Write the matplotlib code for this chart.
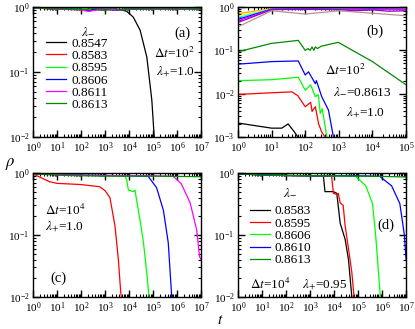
import matplotlib
matplotlib.use("Agg")
import matplotlib.pyplot as plt
from matplotlib.ticker import LogLocator, NullFormatter

plt.rcParams['font.family'] = ['Liberation Serif', 'DejaVu Serif']
plt.rcParams['mathtext.fontset'] = 'stix'

# grace colours
BLACK, RED, GREEN, BLUE = '#000000', '#ff0000', '#00ff00', '#0000ff'
MAGENTA, GREEN4 = '#ff00ff', '#008b00'

# ---- panel (a): dt=1e2, lambda+=1.0
a_labels = ['0.8547', '0.8583', '0.8595', '0.8606', '0.8611', '0.8613']
a_colors = [BLACK, RED, GREEN, BLUE, MAGENTA, GREEN4]
a_t = [
    [1, 10, 100, 1e3, 5e3, 8e3, 1.5e4, 2.9e4, 5.5e4, 8.9e4, 1.1e5, 1.25e5],
    [1, 10, 100, 1e3, 1e4, 1e5, 1e6, 1e7],
    [1, 10, 100, 300, 1e3, 3e3, 1e4, 1e5, 1e6, 1e7],
    [1, 10, 100, 250, 300, 1e3, 3e3, 1e4, 1e5, 1e6, 1e7],
    [1, 10, 100, 200, 1e3, 5e3, 1e4, 1e5, 1e6, 1e7],
    [1, 10, 100, 500, 1e3, 2e3, 5e3, 1e4, 1e5, 1e6, 1e7],
]
a_rho = [
    [0.97, 0.93, 0.92, 0.91, 0.90, 0.86, 0.70, 0.44, 0.17, 0.037, 0.011, 0.005],
    [0.97, 0.93, 0.92, 0.93, 0.92, 0.93, 0.92, 0.93],
    [0.97, 0.94, 0.93, 0.90, 0.95, 0.91, 0.94, 0.93, 0.94, 0.93],
    [0.97, 0.94, 0.92, 0.87, 0.92, 0.93, 0.90, 0.94, 0.93, 0.92, 0.93],
    [0.97, 0.93, 0.90, 0.86, 0.94, 0.89, 0.95, 0.92, 0.93, 0.92],
    [0.97, 0.94, 0.91, 0.96, 0.88, 0.97, 0.89, 0.95, 0.93, 0.94, 0.92],
]

# ---- panel (b): dt=1e2, lambda-=0.8613
b_top_colors = ['#ffa500', '#ffff00', '#00ffff', '#0000ff', '#ff00ff', '#9400d3', '#bc8f8f']
b_top_t = [
    [1, 10, 100, 1e3, 1e4, 1e5],
    [1, 10, 100, 1e3, 1e4, 1e5],
    [1, 10, 100, 1e3, 1e4, 1e5],
    [1, 10, 100, 1e3, 1e4, 1e5],
    [1, 10, 100, 1e3, 1e4, 1e5],
    [1, 10, 100, 1e3, 3e3, 1e4, 3e4, 1e5],
    [1, 10, 100, 1e3, 1e4, 1e5],
]
b_top_rho = [
    [0.70, 0.92, 0.93, 0.92, 0.92, 0.92],
    [0.62, 0.91, 0.92, 0.92, 0.91, 0.91],
    [0.57, 0.90, 0.91, 0.90, 0.90, 0.90],
    [0.52, 0.89, 0.90, 0.89, 0.90, 0.89],
    [0.48, 0.88, 0.89, 0.88, 0.88, 0.88],
    [0.44, 0.87, 0.88, 0.87, 0.82, 0.86, 0.80, 0.82],
    [0.35, 0.82, 0.69, 0.82, 0.72, 0.63],
]
b_colors = [BLACK, RED, GREEN, BLUE, GREEN4]
b_t = [
    [1, 10, 20, 31, 48, 60, 70],
    [1, 10, 40, 60, 100, 145, 160, 200, 250, 310, 390, 420],
    [1, 10, 62, 100, 145, 200, 245, 280, 320, 440, 480],
    [1, 10, 62, 100, 125, 200, 215, 310, 490, 690, 750],
    [1, 10, 62, 100, 120, 140, 160, 180, 200, 230, 300, 960, 1e4, 1e5],
]
b_rho = [
    [0.0021, 0.0016, 0.0016, 0.0020, 0.0013, 0.0010, 0.0009],
    [0.0096, 0.0105, 0.011, 0.009, 0.005, 0.0063, 0.0039, 0.0050, 0.0020, 0.0013, 0.0010, 0.0009],
    [0.020, 0.021, 0.024, 0.012, 0.016, 0.0085, 0.0095, 0.0035, 0.0045, 0.0010, 0.0009],
    [0.048, 0.055, 0.057, 0.027, 0.032, 0.017, 0.020, 0.0085, 0.0042, 0.0010, 0.0009],
    [0.093, 0.145, 0.17, 0.10, 0.11, 0.10, 0.12, 0.10, 0.12, 0.11, 0.125, 0.153, 0.055, 0.016],
]

# ---- panel (c): dt=1e4, lambda+=1.0
c_colors = [RED, GREEN, BLUE, MAGENTA, GREEN4]
c_t = [
    [1, 2, 5, 10, 100, 600, 1000, 1600, 2600, 3600, 4500, 5200],
    [1, 100, 1e3, 6.8e3, 8e3, 9.4e3, 1.5e4, 1.78e4, 2.1e4, 2.9e4, 4e4, 5.5e4, 6.8e4, 7.5e4],
    [1, 100, 1e3, 1e4, 6.3e4, 1.4e5, 2.7e5, 4.3e5, 6e5, 7e5],
    [1, 100, 1e3, 1e4, 1e5, 7e5, 1.5e6, 3.5e6, 6.6e6, 8.6e6, 1e7],
    [1, 10, 100, 1e3, 1e4, 1e5, 1e6, 1e7],
]
c_rho = [
    [0.97, 0.85, 0.72, 0.68, 0.65, 0.60, 0.52, 0.40, 0.14, 0.04, 0.012, 0.008],
    [0.97, 0.92, 0.91, 0.90, 0.77, 0.53, 0.50, 0.53, 0.35, 0.17, 0.075, 0.024, 0.010, 0.008],
    [0.97, 0.92, 0.91, 0.90, 0.88, 0.58, 0.25, 0.075, 0.010, 0.006],
    [0.97, 0.92, 0.91, 0.90, 0.90, 0.88, 0.67, 0.33, 0.12, 0.045, 0.04],
    [0.97, 0.92, 0.90, 0.89, 0.89, 0.89, 0.88, 0.87],
]

# ---- panel (d): dt=1e4, lambda+=0.95
d_labels = ['0.8583', '0.8595', '0.8606', '0.8610', '0.8613']
d_colors = [BLACK, RED, GREEN, BLUE, GREEN4]
d_t = [
    [1, 10, 100, 1e3, 3.6e3, 4.2e3, 9.4e3, 1.3e4, 1.8e4, 2.9e4, 4e4, 5.5e4, 6e4],
    [1, 10, 100, 1e3, 5e3, 7e3, 8e3, 9.4e3, 1.3e4, 1.5e4, 1.8e4, 2.4e4, 2.9e4, 4e4, 5.5e4, 7e4],
    [1, 10, 100, 1e3, 1e4, 8e4, 2.1e5, 4e5, 5.4e5, 8.5e5, 9e5],
    [1, 10, 100, 1e3, 1e4, 1e5, 8e5, 2.5e6, 5.5e6, 8.5e6, 1e7],
    [1, 10, 100, 1e3, 1e4, 1e5, 1e6, 1e7],
]
d_rho = [
    [0.97, 0.93, 0.91, 0.90, 0.89, 0.50, 0.50, 0.47, 0.155, 0.085, 0.04, 0.01, 0.007],
    [0.97, 0.93, 0.91, 0.90, 0.88, 0.90, 0.86, 0.47, 0.45, 0.47, 0.33, 0.30, 0.14, 0.06, 0.025, 0.009],
    [0.97, 0.93, 0.91, 0.90, 0.90, 0.88, 0.62, 0.32, 0.10, 0.010, 0.007],
    [0.97, 0.93, 0.91, 0.90, 0.90, 0.90, 0.88, 0.62, 0.32, 0.10, 0.04],
    [0.97, 0.93, 0.91, 0.90, 0.90, 0.89, 0.88, 0.86],
]

FS = 9.5


def style(ax, xmax, ymin):
    ax.set_xscale('log')
    ax.set_yscale('log')
    ax.set_xlim(1, xmax)
    ax.set_ylim(ymin, 1)
    for axis in (ax.xaxis, ax.yaxis):
        axis.set_major_locator(LogLocator(base=10, numticks=20))
        axis.set_minor_locator(LogLocator(base=10, subs=range(2, 10), numticks=200))
        axis.set_minor_formatter(NullFormatter())
    ax.tick_params(which='both', direction='in', top=True, right=True, labelsize=8, pad=2.5)
    ax.tick_params(which='major', length=5, width=1)
    ax.tick_params(which='minor', length=2.5, width=0.8)
    for s in ax.spines.values():
        s.set_linewidth(1)


def legend(ax, x, y, tx, ty):
    ax.legend(loc='upper left', bbox_to_anchor=(x, y), frameon=False, fontsize=FS,
              handlelength=1.5, handletextpad=0.4, labelspacing=0.0,
              borderaxespad=0, borderpad=0)
    ax.text(tx, ty, r'$\lambda_{-}$', transform=ax.transAxes, fontsize=FS,
            ha='center', va='center')


fig = plt.figure(figsize=(4.15, 3.29), dpi=100)
axa = fig.add_axes([0.0795, 0.5836, 0.405, 0.395])
axb = fig.add_axes([0.5735, 0.5836, 0.405, 0.395])
axc = fig.add_axes([0.0795, 0.0973, 0.405, 0.377])
axd = fig.add_axes([0.5735, 0.0973, 0.405, 0.377])

lw = 0.9
kw = dict(fontsize=FS, va='center')

# (a)
for t, r, c, lab in zip(a_t, a_rho, a_colors, a_labels):
    axa.plot(t, r, color=c, lw=lw, label=lab)
style(axa, 1e7, 1e-2)
legend(axa, 0.08, 0.765, 0.33, 0.81)
axa.text(0.89, 0.80, '(a)', transform=axa.transAxes, fontsize=10.5, va='center', ha='center')
axa.text(0.96, 0.646, r'$\Delta t$=10$^2$', transform=axa.transAxes, ha='right', **kw)
axa.text(0.96, 0.50, r'$\lambda_{+}$=1.0', transform=axa.transAxes, ha='right', **kw)

# (b)
for t, r, c in zip(b_top_t, b_top_rho, b_top_colors):
    axb.plot(t, r, color=c, lw=lw)
for t, r, c in zip(b_t, b_rho, b_colors):
    axb.plot(t, r, color=c, lw=lw)
style(axb, 1e5, 1e-3)
axb.text(0.815, 0.81, '(b)', transform=axb.transAxes, fontsize=10.5, va='center', ha='center')
axb.text(0.52, 0.515, r'$\Delta t$=10$^2$', transform=axb.transAxes, **kw)
axb.text(0.565, 0.35, r'$\lambda_{-}$=0.8613', transform=axb.transAxes, **kw)
axb.text(0.64, 0.185, r'$\lambda_{+}$=1.0', transform=axb.transAxes, **kw)

# (c)
for t, r, c in zip(c_t, c_rho, c_colors):
    axc.plot(t, r, color=c, lw=lw)
style(axc, 1e7, 1e-2)
axc.text(0.07, 0.695, r'$\Delta t$=10$^4$', transform=axc.transAxes, **kw)
axc.text(0.07, 0.565, r'$\lambda_{+}$=1.0', transform=axc.transAxes, **kw)
axc.text(0.15, 0.15, '(c)', transform=axc.transAxes, fontsize=10.5, va='center', ha='center')

# (d)
for t, r, c, lab in zip(d_t, d_rho, d_colors, d_labels):
    axd.plot(t, r, color=c, lw=lw, label=lab)
style(axd, 1e7, 1e-2)
legend(axd, 0.07, 0.74, 0.31, 0.84)
axd.text(0.88, 0.58, '(d)', transform=axd.transAxes, fontsize=10.5, va='center', ha='center')
axd.text(0.07, 0.10, r'$\Delta t$=10$^4$', transform=axd.transAxes, **kw)
axd.text(0.38, 0.10, r'$\lambda_{+}$=0.95', transform=axd.transAxes, **kw)

fig.text(0.012, 0.50, r'$\rho$', fontsize=12, va='center')
fig.text(0.53, 0.027, r'$t$', fontsize=11, va='center', ha='center')

fig.savefig('out.png', dpi=100)
